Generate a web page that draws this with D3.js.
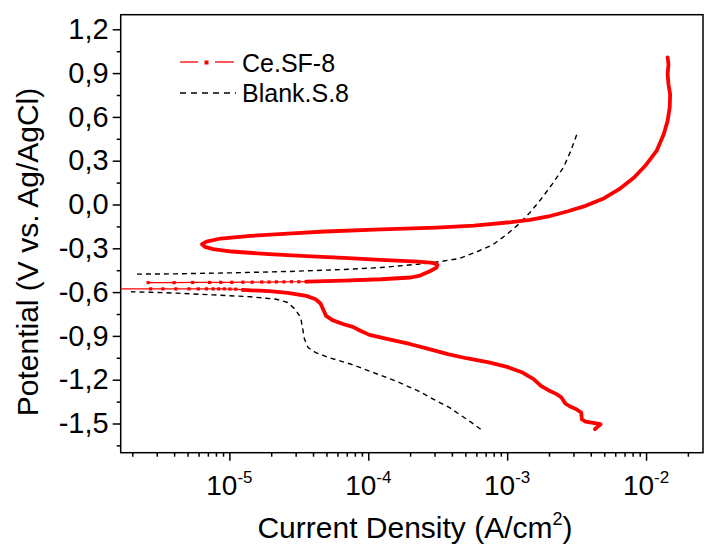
<!DOCTYPE html>
<html>
<head>
<meta charset="utf-8">
<script src="https://cdn.jsdelivr.net/npm/d3@7"></script>
<style>
  body { margin: 0; background: #fff; }
  svg text { font-family: "Liberation Sans", Arial, sans-serif; fill: #000; }
</style>
</head>
<body>
<script>
"use strict";

// [current density A/cm2, potential V]
// Ce.SF-8 cathodic branch, from -1.5 V up to the corrosion potential
const ceCathodic = [
  [4.29e-3, -1.539], [4.70e-3, -1.505], [3.67e-3, -1.487], [3.45e-3, -1.471],
  [3.41e-3, -1.425], [3.15e-3, -1.402], [2.87e-3, -1.386], [2.62e-3, -1.363],
  [2.46e-3, -1.322], [2.27e-3, -1.299], [1.98e-3, -1.272], [1.75e-3, -1.242],
  [1.55e-3, -1.196], [1.29e-3, -1.151], [1.00e-3, -1.112], [7.38e-4, -1.082],
  [5.09e-4, -1.053], [3.74e-4, -1.025], [2.75e-4, -0.991], [2.02e-4, -0.957],
  [1.39e-4, -0.922], [1.02e-4, -0.893], [8.77e-5, -0.865], [7.75e-5, -0.838],
  [6.64e-5, -0.820], [5.52e-5, -0.792], [4.97e-5, -0.763], [4.73e-5, -0.717],
  [4.53e-5, -0.678], [4.18e-5, -0.649], [3.58e-5, -0.626], [2.63e-5, -0.605],
  [1.93e-5, -0.594], [1.25e-5, -0.585]
];
// sparse points near the corrosion potential (cathodic side)
const ceNearLower = [
  [1.25e-5, -0.585], [1.11e-5, -0.580], [1.01e-5, -0.579], [9.2e-6, -0.578],
  [8.39e-6, -0.578], [7.64e-6, -0.578], [6.84e-6, -0.578], [5.97e-6, -0.578],
  [5.12e-6, -0.578], [4.12e-6, -0.578], [3.32e-6, -0.578], [2.71e-6, -0.578],
  [1.0e-7, -0.578]
];
// sparse points near the corrosion potential (anodic side)
const ceNearUpper = [
  [2.6e-6, -0.535], [4.0e-6, -0.535], [5.44e-6, -0.534], [7.2e-6, -0.534],
  [8.65e-6, -0.533], [1.04e-5, -0.533], [1.25e-5, -0.532], [1.46e-5, -0.532],
  [1.71e-5, -0.531], [1.93e-5, -0.531], [2.18e-5, -0.530], [2.47e-5, -0.530],
  [2.8e-5, -0.529], [3.16e-5, -0.529], [3.58e-5, -0.528]
];
// Ce.SF-8 anodic branch up to 1.0 V
const ceAnodic = [
  [3.58e-5, -0.528], [6.64e-5, -0.521], [1.23e-4, -0.512], [2.02e-4, -0.500],
  [2.36e-4, -0.487], [2.75e-4, -0.459], [3.10e-4, -0.432], [3.15e-4, -0.413],
  [2.92e-4, -0.400], [2.28e-4, -0.391], [1.23e-4, -0.379], [6.64e-5, -0.365],
  [3.58e-5, -0.354], [1.93e-5, -0.340], [1.04e-5, -0.322], [7.64e-6, -0.306],
  [6.67e-6, -0.290], [6.35e-6, -0.272], [6.84e-6, -0.254], [8.65e-6, -0.233],
  [1.42e-5, -0.215], [2.63e-5, -0.199], [4.88e-5, -0.185], [1.23e-4, -0.171],
  [3.10e-4, -0.158], [5.77e-4, -0.144], [1.07e-3, -0.121], [1.46e-3, -0.105],
  [1.98e-3, -0.082], [2.70e-3, -0.048], [3.67e-3, -0.009], [5.00e-3, 0.043],
  [6.40e-3, 0.105], [8.20e-3, 0.185], [9.86e-3, 0.265], [1.19e-2, 0.367],
  [1.34e-2, 0.481], [1.43e-2, 0.573], [1.48e-2, 0.664], [1.49e-2, 0.755],
  [1.45e-2, 0.824], [1.43e-2, 0.892], [1.45e-2, 0.961], [1.43e-2, 1.007]
];
// Blank.S.8 cathodic branch
const blankCathodic = [
  [6.44e-4, -1.539], [5.42e-4, -1.487], [4.50e-4, -1.436], [3.85e-4, -1.391],
  [3.10e-4, -1.345], [2.28e-4, -1.276], [1.57e-4, -1.208], [1.09e-4, -1.151],
  [7.52e-5, -1.094], [5.19e-5, -1.048], [4.18e-5, -1.014], [3.69e-5, -0.980],
  [3.47e-5, -0.922], [3.36e-5, -0.843], [3.26e-5, -0.774], [2.97e-5, -0.717],
  [2.63e-5, -0.671], [2.18e-5, -0.649], [1.42e-5, -0.632], [7.64e-6, -0.619],
  [4.12e-6, -0.607], [2.68e-6, -0.601], [1.96e-6, -0.598]
];
// Blank.S.8 anodic branch
const blankAnodic = [
  [2.16e-6, -0.477], [4.12e-6, -0.475], [1.04e-5, -0.468], [2.63e-5, -0.459],
  [6.64e-5, -0.445], [1.23e-4, -0.432], [2.28e-4, -0.409], [3.30e-4, -0.391],
  [4.50e-4, -0.370], [6.12e-4, -0.322], [7.85e-4, -0.276], [1.00e-3, -0.203],
  [1.21e-3, -0.135], [1.46e-3, -0.055], [1.75e-3, 0.036], [2.11e-3, 0.139],
  [2.54e-3, 0.253], [2.87e-3, 0.367], [3.21e-3, 0.493]
];

const seriesNames = ["Ce.SF-8", "Blank.S.8"];
const yTicks = [-1.5, -1.2, -0.9, -0.6, -0.3, 0, 0.3, 0.6, 0.9, 1.2];
const xTicks = [1e-5, 1e-4, 1e-3, 1e-2];
const xTickExps = ["-5", "-4", "-3", "-2"];

const width = 704, height = 546;
const plot = {left: 120.7, right: 703, top: 14.7, bottom: 452.7};
const red = "#ff0000";
const font = "\"Liberation Sans\", Arial, sans-serif";

const svg = d3.select("body")
  .append("svg")
    .attr("width", width)
    .attr("height", height);

const x = d3.scaleLog().domain([1.65e-6, 2.57e-2]).range([plot.left, plot.right]);
const y = d3.scaleLinear().domain([-1.7, 1.3]).range([plot.bottom, plot.top]);

// minor tick positions
const yMinor = d3.range(-1.65, 1.3, 0.15).filter(v => !yTicks.some(t => Math.abs(t - v) < 1e-6));
const xMinor = [];
for (let k = -6; k <= -2; k++) {
  for (let m = 2; m <= 9; m++) {
    const v = m * Math.pow(10, k);
    if (v > x.domain()[0] && v < x.domain()[1]) xMinor.push(v);
  }
}

function styleAxis(g) {
  g.select(".domain").remove();
  g.selectAll("line").attr("stroke", "#000").attr("stroke-width", 1.5);
  g.attr("font-family", font);
}

// y axis
svg.append("g")
  .attr("transform", `translate(${plot.left},0)`)
  .call(d3.axisLeft(y).tickValues(yMinor).tickSize(4).tickFormat(""))
  .call(styleAxis);

svg.append("g")
  .attr("transform", `translate(${plot.left},0)`)
  .call(d3.axisLeft(y).tickValues(yTicks).tickSize(8).tickPadding(4)
    .tickFormat(d => d3.format(".1f")(d).replace(".", ",").replace("−", "-")))
  .call(styleAxis)
  .attr("font-size", 29);

// x axis
svg.append("g")
  .attr("transform", `translate(0,${plot.bottom})`)
  .call(d3.axisBottom(x).tickValues(xMinor).tickSize(4).tickFormat(""))
  .call(styleAxis);

svg.append("g")
  .attr("transform", `translate(0,${plot.bottom})`)
  .call(d3.axisBottom(x).tickValues(xTicks).tickSize(8).tickFormat(""))
  .call(styleAxis);

const xLabels = svg.append("g")
  .selectAll("text")
  .data(xTicks)
  .enter()
  .append("text")
    .attr("x", d => x(d))
    .attr("y", 495)
    .attr("text-anchor", "middle")
    .attr("font-size", 28);
xLabels.append("tspan").text("10");
xLabels.append("tspan")
  .attr("dy", -12)
  .attr("font-size", 17)
  .text((d, i) => xTickExps[i]);

// frame
svg.append("rect")
  .attr("x", plot.left)
  .attr("y", plot.top)
  .attr("width", plot.right - plot.left)
  .attr("height", plot.bottom - plot.top)
  .attr("fill", "none")
  .attr("stroke", "#000")
  .attr("stroke-width", 1.5);

// axis titles
const xTitle = svg.append("text")
  .attr("x", 415)
  .attr("y", 538)
  .attr("text-anchor", "middle")
  .attr("font-size", 30);
xTitle.append("tspan").text("Current Density (A/cm");
xTitle.append("tspan").attr("dy", -13).attr("font-size", 18).text("2");
xTitle.append("tspan").attr("dy", 13).text(")");

svg.append("text")
  .attr("transform", "translate(38,252) rotate(-90)")
  .attr("text-anchor", "middle")
  .attr("font-size", 30)
  .text("Potential (V vs. Ag/AgCl)");

// data
svg.append("clipPath")
  .attr("id", "plot-clip")
  .append("rect")
    .attr("x", plot.left)
    .attr("y", plot.top)
    .attr("width", plot.right - plot.left)
    .attr("height", plot.bottom - plot.top);

const layer = svg.append("g").attr("clip-path", "url(#plot-clip)");
const line = d3.line().x(d => x(d[0])).y(d => y(d[1]));

// blank: black dashed
for (const branch of [blankCathodic, blankAnodic]) {
  layer.append("path")
    .attr("d", line(branch))
    .attr("fill", "none")
    .attr("stroke", "#000")
    .attr("stroke-width", 1.4)
    .attr("stroke-dasharray", "5,4");
}

// Ce.SF-8: dense markers merge into a thick line, sparse parts show line + squares
for (const branch of [ceNearLower, ceNearUpper]) {
  layer.append("path")
    .attr("d", line(branch))
    .attr("fill", "none")
    .attr("stroke", red)
    .attr("stroke-width", 1.2);
  layer.append("g")
    .selectAll("rect")
    .data(branch)
    .enter()
    .append("rect")
      .attr("x", d => x(d[0]) - 1.6)
      .attr("y", d => y(d[1]) - 1.6)
      .attr("width", 3.2)
      .attr("height", 3.2)
      .attr("fill", red);
}
for (const branch of [ceCathodic, ceAnodic]) {
  layer.append("path")
    .attr("d", line(branch))
    .attr("fill", "none")
    .attr("stroke", red)
    .attr("stroke-width", 3.8)
    .attr("stroke-linejoin", "round")
    .attr("stroke-linecap", "round");
}

// legend
const legend = svg.append("g").attr("font-size", 25);
legend.append("line")
  .attr("x1", 180).attr("x2", 198).attr("y1", 62).attr("y2", 62)
  .attr("stroke", red).attr("stroke-width", 1.3);
legend.append("line")
  .attr("x1", 215).attr("x2", 234).attr("y1", 62).attr("y2", 62)
  .attr("stroke", red).attr("stroke-width", 1.3);
legend.append("rect")
  .attr("x", 204.5).attr("y", 60.5).attr("width", 4).attr("height", 4)
  .attr("fill", red);
legend.append("text").attr("x", 242).attr("y", 71.5).text(seriesNames[0]);

legend.append("line")
  .attr("x1", 180).attr("x2", 236).attr("y1", 93).attr("y2", 93)
  .attr("stroke", "#000").attr("stroke-width", 1.3)
  .attr("stroke-dasharray", "6,5");
legend.append("text").attr("x", 242).attr("y", 101.5).text(seriesNames[1]);
</script>
</body>
</html>
